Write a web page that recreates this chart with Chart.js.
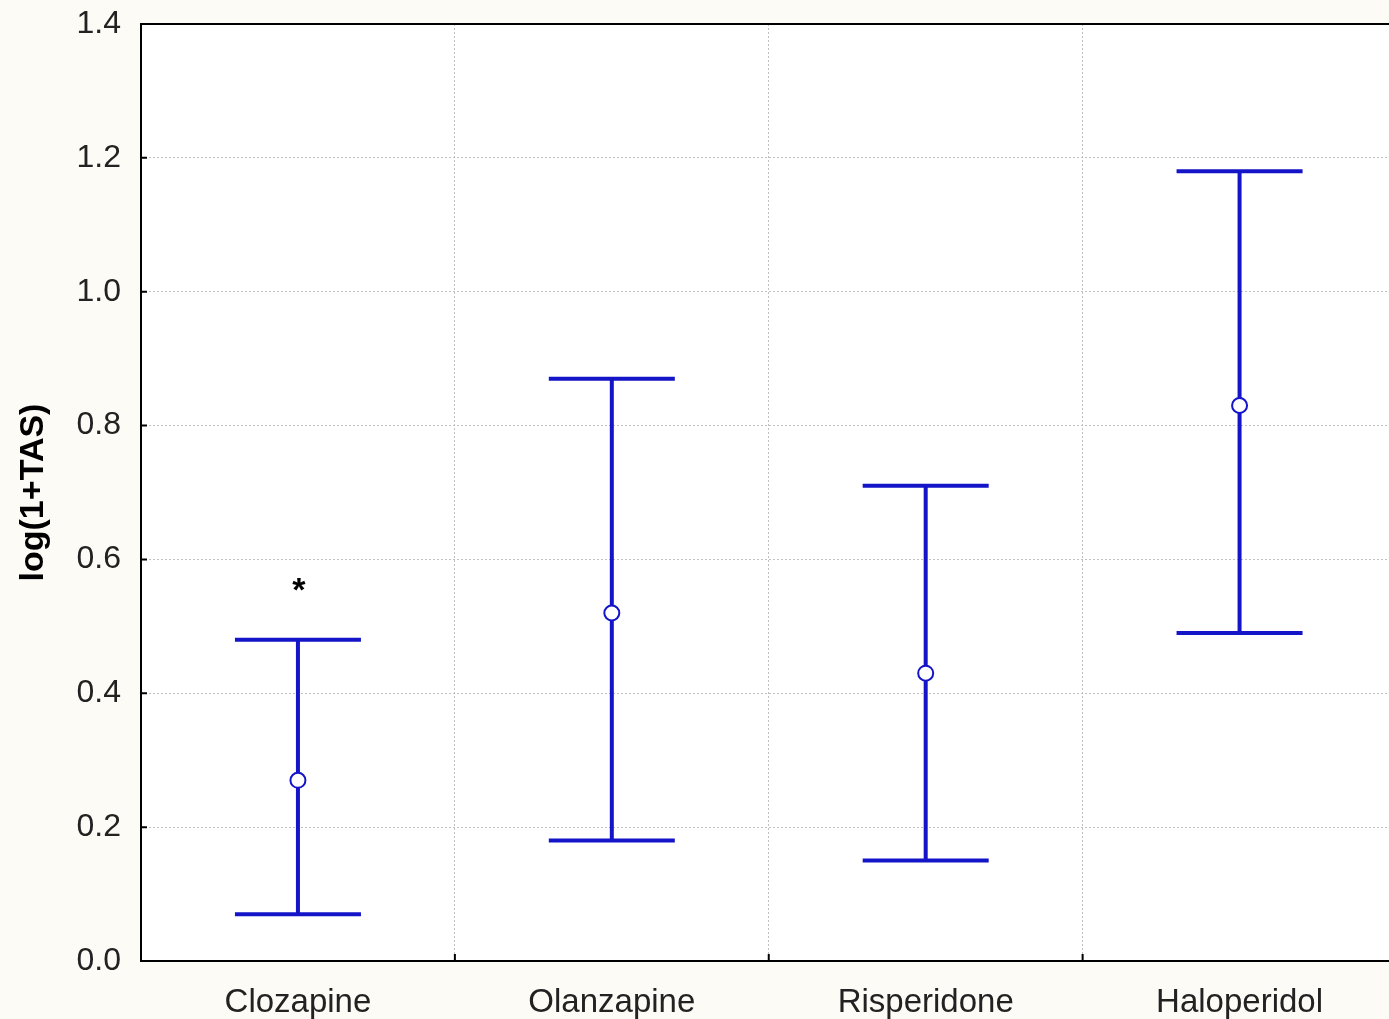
<!DOCTYPE html>
<html>
<head>
<meta charset="utf-8">
<script src="https://cdn.jsdelivr.net/npm/chart.js@4.4.1/dist/chart.umd.min.js"></script>
<style>
  html, body { margin: 0; padding: 0; overflow: hidden; background: #fdfbf6; }
  #wrap { width: 1406px; height: 1019px; }
</style>
</head>
<body>
<div id="wrap"><canvas id="c" width="1406" height="1019"></canvas></div>
<script>
const categories = ['Clozapine', 'Olanzapine', 'Risperidone', 'Haloperidol'];
const means = [0.27, 0.52, 0.43, 0.83];
const upper = [0.48, 0.87, 0.71, 1.18];
const lower = [0.07, 0.18, 0.15, 0.49];
const markers = ['*', '', '', ''];
const yTicks = [0, 0.2, 0.4, 0.6, 0.8, 1.0, 1.2, 1.4];

const BLUE = '#1414c8';

const areaPlugin = {
  id: 'area',
  beforeDraw(chart) {
    const {ctx, chartArea: a} = chart;
    ctx.save();
    ctx.fillStyle = '#ffffff';
    ctx.fillRect(a.left, a.top, a.right - a.left, a.bottom - a.top);
    ctx.restore();
  },
  beforeDatasetsDraw(chart) {
    const {ctx, chartArea: a, scales} = chart;
    const x = scales.x, y = scales.y;
    ctx.save();
    ctx.strokeStyle = '#000';
    ctx.lineWidth = 2;
    ctx.strokeRect(a.left, a.top, a.right - a.left, a.bottom - a.top);
    ctx.beginPath();
    yTicks.forEach(v => {
      const py = y.getPixelForValue(v);
      ctx.moveTo(a.left, py); ctx.lineTo(a.left + 6, py);
    });
    for (let i = 1; i < categories.length; i++) {
      const px = (x.getPixelForValue(i - 1) + x.getPixelForValue(i)) / 2;
      ctx.moveTo(px, a.bottom); ctx.lineTo(px, a.bottom - 7);
    }
    ctx.stroke();
    const half = 63;
    ctx.strokeStyle = BLUE;
    ctx.lineWidth = 4;
    ctx.lineCap = 'butt';
    categories.forEach((c, i) => {
      const px = x.getPixelForValue(i);
      const pu = y.getPixelForValue(upper[i]);
      const pl = y.getPixelForValue(lower[i]);
      ctx.beginPath();
      ctx.moveTo(px, pu); ctx.lineTo(px, pl);
      ctx.moveTo(px - half, pu); ctx.lineTo(px + half, pu);
      ctx.moveTo(px - half, pl); ctx.lineTo(px + half, pl);
      ctx.stroke();
      if (markers[i]) {
        ctx.fillStyle = '#000';
        ctx.font = 'bold 34px "Liberation Sans", Arial, sans-serif';
        ctx.textAlign = 'center';
        ctx.textBaseline = 'middle';
        ctx.fillText(markers[i], px + 1, pu - 48);
      }
    });
    ctx.restore();
  }
};

new Chart(document.getElementById('c'), {
  type: 'line',
  data: {
    labels: categories,
    datasets: [{
      data: means,
      showLine: false,
      pointStyle: 'circle',
      pointRadius: 7.5,
      pointHoverRadius: 7.5,
      pointBorderWidth: 2,
      pointBackgroundColor: '#ffffff',
      pointBorderColor: BLUE
    }]
  },
  plugins: [areaPlugin],
  options: {
    responsive: false,
    animation: false,
    events: [],
    layout: { padding: { left: 0, right: 3, top: 24, bottom: 0 } },
    plugins: { legend: { display: false }, tooltip: { enabled: false } },
    scales: {
      x: {
        type: 'category',
        offset: true,
        afterFit(s) { s.height = 58; },
        grid: { offset: true, color: '#c0c0c0', lineWidth: 1, drawTicks: false },
        border: { display: false, dash: [2, 2] },
        ticks: { color: '#222', padding: 22, font: { family: '"Liberation Sans", Arial, sans-serif', size: 33 } }
      },
      y: {
        type: 'linear',
        min: 0, max: 1.4,
        afterBuildTicks(s) { s.ticks = yTicks.map(v => ({ value: v })); },
        afterFit(s) { s.width = 141; s.paddingTop = 0; s.paddingBottom = 0; },
        grid: { color: '#c0c0c0', lineWidth: 1, drawTicks: false },
        border: { display: false, dash: [2, 2] },
        ticks: {
          color: '#222', padding: 20,
          font: { family: '"Liberation Sans", Arial, sans-serif', size: 32 },
          callback: v => Number(v).toFixed(1)
        },
        title: {
          display: true,
          text: 'log(1+TAS)',
          color: '#000',
          padding: { top: 13, bottom: 0 },
          font: { family: '"Liberation Sans", Arial, sans-serif', size: 34, weight: 'bold' }
        }
      }
    }
  }
});
</script>
</body>
</html>
